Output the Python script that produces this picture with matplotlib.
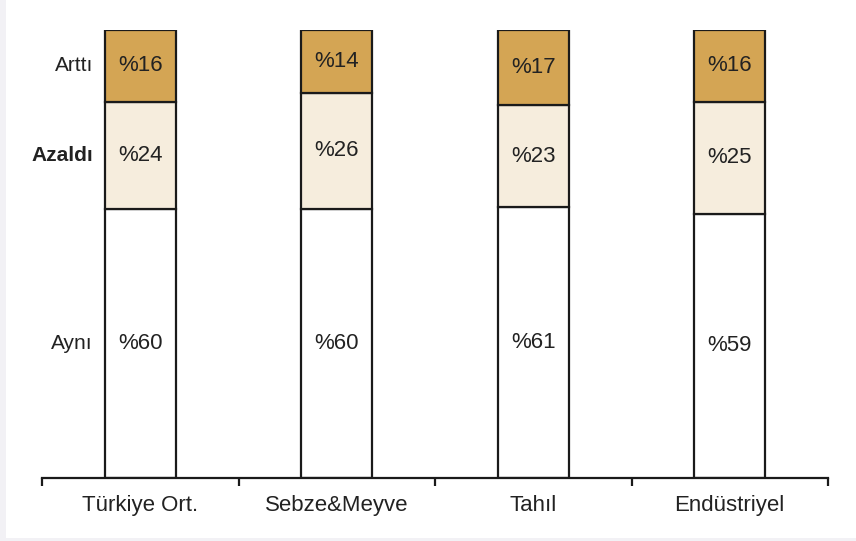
import matplotlib
matplotlib.use("Agg")
import matplotlib.pyplot as plt
from matplotlib.patches import Rectangle
from matplotlib.transforms import offset_copy
import numpy as np

plt.rcParams['font.family'] = ['Liberation Sans', 'DejaVu Sans']

categories = ["Türkiye Ort.", "Sebze&Meyve", "Tahıl", "Endüstriyel"]
ayni = [60, 60, 61, 59]
azaldi = [24, 26, 23, 25]
artti = [16, 14, 17, 16]
series_names = ["Aynı", "Azaldı", "Arttı"]

W, H = 856, 541
fig = plt.figure(figsize=(W / 100, H / 100), dpi=100, facecolor="white")
# light gray frame band (left & bottom)
fig.patches.append(Rectangle((0, 0), 6 / W, 1, transform=fig.transFigure,
                             facecolor="#f2f1f5", edgecolor="none", zorder=-1))
fig.patches.append(Rectangle((0, 0), 1, 3 / H, transform=fig.transFigure,
                             facecolor="#f2f1f5", edgecolor="none", zorder=-1))

left, right = 42 / W, 828 / W
bottom, top = (H - 478) / H, (H - 30) / H
ax = fig.add_axes([left, bottom, right - left, top - bottom])

x = np.arange(len(categories))
a = np.array(ayni, float)
z = np.array(azaldi, float)
r = np.array(artti, float)
tot = a + z + r
a_n, z_n, r_n = a / tot * 100, z / tot * 100, r / tot * 100

width = 0.36
kw = dict(width=width, edgecolor="#1a1a1a", linewidth=1.6)
ax.bar(x, a_n, color="white", **kw)
ax.bar(x, z_n, bottom=a_n, color="#f6eddd", **kw)
ax.bar(x, r_n, bottom=a_n + z_n, color="#d4a554", **kw)

fs = 16
tc = "#222222"
for i in range(len(x)):
    ax.text(x[i], a_n[i] / 2, f"%{ayni[i]}", ha="center", va="center", fontsize=fs, color=tc)
    ax.text(x[i], a_n[i] + z_n[i] / 2, f"%{azaldi[i]}", ha="center", va="center", fontsize=fs, color=tc)
    ax.text(x[i], a_n[i] + z_n[i] + r_n[i] / 2, f"%{artti[i]}", ha="center", va="center", fontsize=fs, color=tc)

ax.set_xlim(-0.5, len(categories) - 0.5)
ax.set_ylim(0, 100)
ax.set_xticks(x)
ax.set_xticklabels(categories, fontsize=fs, color=tc)
ax.tick_params(axis="x", which="major", length=0, pad=12)
ax.set_xticks(np.arange(-0.5, len(categories)), minor=True)
ax.tick_params(axis="x", which="minor", length=6, width=1.6, direction="out", color="#1a1a1a")

# series labels beside the first bar
ypos = [a_n[0] / 2, a_n[0] + z_n[0] / 2, a_n[0] + z_n[0] + r_n[0] / 2]
trans = offset_copy(ax.transData, fig=fig, x=-12, y=0, units="dots")
for name, yp in zip(series_names, ypos):
    ax.text(x[0] - width / 2, yp, name, transform=trans, ha="right", va="center",
            fontsize=fs - 1, color=tc, fontweight="bold" if name == "Azaldı" else "normal")
ax.set_yticks([])

for s in ["left", "right", "top"]:
    ax.spines[s].set_visible(False)
ax.spines["bottom"].set_linewidth(1.6)
ax.spines["bottom"].set_color("#1a1a1a")
ax.patch.set_alpha(0)

fig.savefig("out.png", dpi=100, facecolor="white")
